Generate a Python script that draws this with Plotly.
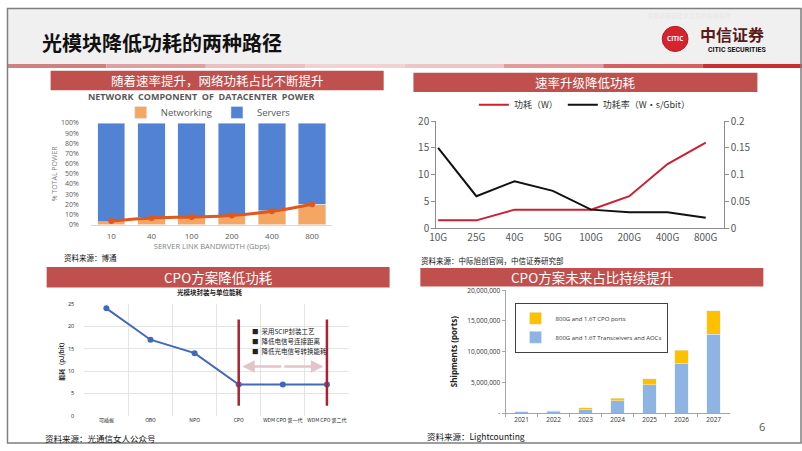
import plotly.graph_objects as go

W, H = 802, 451


def px(x):
    return x / W


def py(y):
    return 1 - y / H


CJK = "Noto Sans CJK SC, Noto Sans, sans-serif"
LAT = "Open Sans, Noto Sans, sans-serif"

# ---------------- data ----------------
# Panel 1: network component of datacenter power
p1_categories = ["10", "40", "100", "200", "400", "800"]
p1_networking = [3, 7, 7.5, 9, 13.5, 20]
p1_servers = [97, 93, 92.5, 91, 86.5, 80]
p1_trend = [3.5, 6.5, 7.5, 9, 13, 20]

# Panel 2: speed upgrade reduces power
p2_categories = ["10G", "25G", "40G", "50G", "100G", "200G", "400G", "800G"]
p2_power_w = [1.5, 1.5, 3.5, 3.5, 3.5, 6, 12, 16]
p2_power_rate = [0.15, 0.06, 0.088, 0.07, 0.035, 0.03, 0.03, 0.02]

# Panel 3: CPO reduces power
p3_categories = ["可插拔", "OBO", "NPO", "CPO", "WDM CPO 第一代", "WDM CPO 第二代"]
p3_energy = [24, 17, 14, 7, 7, 7]
p3_notes = ["采用SCIP封装工艺", "降低电信号连接距离", "降低光电信号转换能耗"]

# Panel 4: CPO share rising
p4_years = ["2021", "2022", "2023", "2024", "2025", "2026", "2027"]
p4_transceivers = [200000, 200000, 650000, 2000000, 4600000, 8150000, 12800000]
p4_cpo = [0, 200000, 200000, 400000, 1000000, 2050000, 3850000]
p4_tickvals = [0, 5000000, 10000000, 15000000, 20000000]
p4_ticktext = ["-", "5,000,000", "10,000,000", "15,000,000", "20,000,000"]

BANNER = "#c0504d"

fig = go.Figure()

# ---------------- Panel 1 traces ----------------
fig.add_trace(go.Bar(x=p1_categories, y=p1_networking, name="Networking",
                     marker_color="#f5a662", width=0.68,
                     xaxis="x", yaxis="y", legend="legend"))
fig.add_trace(go.Bar(x=p1_categories, y=p1_servers, name="Servers",
                     marker_color="#5282d3", width=0.68,
                     xaxis="x", yaxis="y", legend="legend"))
fig.add_trace(go.Scatter(x=p1_categories, y=p1_trend, mode="lines+markers",
                         line=dict(color="#e2571c", width=3, shape="spline"),
                         marker=dict(size=6, color="#e2571c"),
                         showlegend=False, xaxis="x", yaxis="y"))

# ---------------- Panel 2 traces ----------------
fig.add_trace(go.Scatter(x=p2_categories, y=p2_power_w, mode="lines",
                         name="功耗（W）", line=dict(color="#cc1f2f", width=2),
                         xaxis="x2", yaxis="y2", legend="legend2"))
fig.add_trace(go.Scatter(x=p2_categories, y=p2_power_rate, mode="lines",
                         name="功耗率（W•s/Gbit）", line=dict(color="#111111", width=2),
                         xaxis="x2", yaxis="y5", legend="legend2"))

# ---------------- Panel 3 traces ----------------
fig.add_trace(go.Scatter(x=p3_categories, y=p3_energy, mode="lines+markers",
                         line=dict(color="#4169b8", width=2),
                         marker=dict(size=6, color="#4169b8"),
                         showlegend=False, xaxis="x3", yaxis="y3"))

# ---------------- Panel 4 traces ----------------
fig.add_trace(go.Bar(x=p4_years, y=p4_transceivers,
                     name="800G and 1.6T Transceivers and AOCs",
                     marker_color="#8db4e2", width=0.42,
                     xaxis="x4", yaxis="y4", legend="legend3"))
fig.add_trace(go.Bar(x=p4_years, y=p4_cpo, name="800G and 1.6T CPO ports",
                     marker_color="#ffc000", width=0.42,
                     xaxis="x4", yaxis="y4", legend="legend3"))

GRAY_T = "#595959"

layout = dict(
    width=W, height=H,
    margin=dict(l=0, r=0, t=0, b=0),
    paper_bgcolor="white", plot_bgcolor="rgba(0,0,0,0)",
    barmode="stack",
    font=dict(family=CJK, color="#333333"),
    # panel 1
    xaxis=dict(domain=[px(85), px(328)], anchor="y", type="category",
               range=[-0.5, 5.5], showline=True, linecolor="#d9d9d9",
               ticks="outside", ticklen=4, tickcolor="rgba(0,0,0,0)",
               tickfont=dict(size=8, color=GRAY_T, family=LAT),
               title=dict(text="SERVER LINK BANDWIDTH (Gbps)", standoff=3,
                          font=dict(size=7.5, color="#7f7f7f", family=LAT)),
               fixedrange=True),
    yaxis=dict(domain=[py(224), py(119)], anchor="x", range=[0, 100],
               dtick=10, ticksuffix="%", showgrid=False, zeroline=False,
               ticks="outside", ticklen=10, tickcolor="rgba(0,0,0,0)",
               tickfont=dict(size=7, color=GRAY_T, family=LAT),
               title=dict(text="% TOTAL POWER", standoff=2,
                          font=dict(size=7, color="#7f7f7f", family=LAT))),
    # panel 2
    xaxis2=dict(domain=[px(433), px(723)], anchor="y2", type="category",
                range=[-0.05, 7.47], showline=True, linecolor="#8c8c8c",
                ticks="", tickfont=dict(size=10, color=GRAY_T, family=CJK)),
    yaxis2=dict(domain=[py(228), py(117)], anchor="x2", range=[0, 20],
                dtick=5, showline=True, linecolor="#8c8c8c", ticks="outside",
                ticklen=4, tickcolor="#8c8c8c", showgrid=False, zeroline=False,
                tickfont=dict(size=10, color=GRAY_T, family=CJK)),
    yaxis5=dict(overlaying="y2", side="right", anchor="x2", range=[0, 0.2],
                dtick=0.05, showline=True, linecolor="#8c8c8c", ticks="outside",
                ticklen=4, tickcolor="#8c8c8c", showgrid=False, zeroline=False,
                tickfont=dict(size=10, color=GRAY_T, family=CJK)),
    # panel 3
    xaxis3=dict(domain=[px(78), px(345)], anchor="y3", type="category",
                range=[-0.5, 5.5], tickson="boundaries", showgrid=True,
                gridcolor="#e4e4e4", ticks="", showline=False, tickangle=0,
                tickfont=dict(size=5, color="#222222", family=CJK)),
    yaxis3=dict(domain=[py(422), py(306)], anchor="x3", range=[0, 25],
                dtick=5, showgrid=True, gridcolor="#e4e4e4", zeroline=False,
                ticks="outside", ticklen=8, tickcolor="rgba(0,0,0,0)",
                tickfont=dict(size=5.5, color="#222222", family=LAT),
                title=dict(text="<b>能耗（pJ/bit）</b>", standoff=2,
                           font=dict(size=6, color="#222222", family=CJK))),
    # panel 4
    xaxis4=dict(domain=[px(503), px(729)], anchor="y4", type="category",
                range=[-0.5, 6.5], showline=True, linecolor="#a6a6a6",
                tickson="boundaries", ticks="outside", ticklen=3,
                tickcolor="#a6a6a6",
                tickfont=dict(size=6.5, color="#333333", family=LAT)),
    yaxis4=dict(domain=[py(419), py(292)], anchor="x4", range=[0, 20000000],
                tickvals=p4_tickvals, ticktext=p4_ticktext, showline=True,
                linecolor="#a6a6a6", ticks="outside", ticklen=3,
                tickcolor="#a6a6a6", showgrid=False, zeroline=False,
                tickfont=dict(size=6.5, color="#333333", family=LAT),
                title=dict(text="<b>Shipments (ports)</b>", standoff=8,
                           font=dict(size=8, color="#222222", family=LAT))),
    legend=dict(x=px(203), y=py(108), xanchor="center", yanchor="middle",
                orientation="h", bgcolor="rgba(0,0,0,0)", traceorder="normal",
                font=dict(size=9.5, color=GRAY_T, family=LAT),
                itemwidth=30, tracegroupgap=0),
    legend2=dict(x=px(583), y=py(100), xanchor="center", yanchor="middle",
                 orientation="h", bgcolor="rgba(0,0,0,0)",
                 font=dict(size=9, color="#333333", family=CJK),
                 itemwidth=30),
    legend3=dict(x=px(512), y=py(305), xanchor="left", yanchor="top",
                 bgcolor="white", bordercolor="#404040", borderwidth=1,
                 traceorder="reversed",
                 font=dict(size=6, color="#333333", family=LAT),
                 itemwidth=30, tracegroupgap=2),
)
fig.update_layout(**layout)

shapes = []
annotations = []

# header background
shapes.append(dict(type="rect", xref="paper", yref="paper", x0=0, x1=1,
                   y0=py(58), y1=1, fillcolor="#f0f0f0", line_width=0,
                   layer="below"))
# header bottom red gradient-ish line
grad = ["#cf8080", "#dea0a0", "#ebc0c0", "#f1d2d2", "#efc6c6", "#e29a9a",
        "#d46060", "#c83030"]
seg = W / len(grad)
for i, c in enumerate(grad):
    shapes.append(dict(type="rect", xref="paper", yref="paper",
                       x0=px(i * seg), x1=px((i + 1) * seg), y0=py(62),
                       y1=py(58), fillcolor=c, line_width=0, layer="below"))

# banners
banners = [
    (44, 380, 65, 85, "随着速率提升，网络功耗占比不断提升", 12.5),
    (410, 757, 67, 87, "速率升级降低功耗", 12.5),
    (40, 386, 268, 289, "CPO方案降低功耗", 13.5),
    (417, 763, 269, 288, "CPO方案未来占比持续提升", 13.5),
]
for x0, x1, y0, y1, txt, sz in banners:
    shapes.append(dict(type="rect", xref="paper", yref="paper", x0=px(x0),
                       x1=px(x1), y0=py(y1), y1=py(y0), fillcolor=BANNER,
                       line_width=0, layer="below"))
    annotations.append(dict(text=txt, xref="paper", yref="paper",
                            x=px((x0 + x1) / 2), y=py((y0 + y1) / 2),
                            xanchor="center", yanchor="middle", showarrow=False,
                            font=dict(size=sz, color="white", family=CJK)))

# slide frame
shapes.append(dict(type="rect", xref="paper", yref="paper", x0=px(0.5),
                   x1=px(801), y0=py(450), y1=py(0.5),
                   line=dict(color="#7f7f7f", width=1.5)))

# panel 3 red vertical lines at CPO and WDM CPO 第二代
for cat in [p3_categories[3], p3_categories[5]]:
    idx = p3_categories.index(cat)
    shapes.append(dict(type="line", xref="x3", yref="y3", x0=idx, x1=idx,
                       y0=2.3, y1=21.5, line=dict(color="#b0202e", width=2.5)))

# panel 3 double arrow between the two red lines
i_a = p3_categories.index("CPO")
i_b = p3_categories.index("WDM CPO 第二代")
mid = (i_a + i_b) / 2
for end in [i_a + 0.08, i_b - 0.08]:
    annotations.append(dict(x=end, y=11.0, ax=mid, ay=11.0, xref="x3",
                            yref="y3", axref="x3", ayref="y3", text="",
                            showarrow=True, arrowhead=2, arrowsize=1,
                            arrowwidth=2.5, arrowcolor="#e3c4c8"))

# panel 3 bullet notes
for k, note in enumerate(p3_notes):
    annotations.append(dict(text="■  " + note, xref="x3", yref="y3",
                            x=i_a + 0.25, y=19.0 - k * 2.3, xanchor="left",
                            yanchor="middle", showarrow=False,
                            font=dict(size=6.5, color="#222222", family=CJK)))

# header title
annotations.append(dict(text="<b>光模块降低功耗的两种路径</b>", xref="paper",
                        yref="paper", x=px(33), y=py(36), xanchor="left",
                        yanchor="middle", showarrow=False,
                        font=dict(size=20, color="#111111", family=CJK)))
# logo
shapes.append(dict(type="circle", xref="paper", yref="paper", x0=px(661),
                   x1=px(687), y0=py(45), y1=py(19), fillcolor="#d7232e",
                   line=dict(color="#b01c25", width=1)))
annotations.append(dict(text="<b>CITIC</b>", xref="paper", yref="paper",
                        x=px(674), y=py(32), xanchor="center", yanchor="middle",
                        showarrow=False,
                        font=dict(size=6.5, color="white", family=LAT)))
annotations.append(dict(text="<b>中信证券</b>", xref="paper", yref="paper",
                        x=px(697), y=py(27), xanchor="left", yanchor="middle",
                        showarrow=False,
                        font=dict(size=16, color="#5a1a1a", family=CJK)))
annotations.append(dict(text="<b>CITIC SECURITIES</b>", xref="paper",
                        yref="paper", x=px(736), y=py(43), xanchor="center",
                        yanchor="middle", showarrow=False,
                        font=dict(size=7, color="#111111",
                                  family="Liberation Sans Narrow, Roboto, sans-serif")))
annotations.append(dict(text="请务必阅读正文之后的免责条款", xref="paper",
                        yref="paper", x=px(688), y=py(8), xanchor="center",
                        yanchor="middle", showarrow=False,
                        font=dict(size=6, color="#e6e6e6", family=CJK)))

# chart titles
annotations.append(dict(text="<b>NETWORK  COMPONENT  OF  DATACENTER  POWER</b>",
                        xref="paper", yref="paper", x=px(196), y=py(92),
                        xanchor="center", yanchor="middle", showarrow=False,
                        font=dict(size=9, color="#595959", family=LAT)))
annotations.append(dict(text="<b>光模块封装与单位能耗</b>", xref="paper",
                        yref="paper", x=px(205), y=py(294), xanchor="center",
                        yanchor="middle", showarrow=False,
                        font=dict(size=6.5, color="#222222", family=CJK)))

# sources
sources = [
    (55, 258, "资料来源：博通", 7.5),
    (416, 261, "资料来源：中际旭创官网，中信证券研究部", 7.5),
    (36, 445, "资料来源：光通信女人公众号", 8.5),
    (422, 443, "资料来源：Lightcounting", 8.5),
]
for x, y, t, sz in sources:
    annotations.append(dict(text=t, xref="paper", yref="paper", x=px(x),
                            y=py(y), xanchor="left", yanchor="middle",
                            showarrow=False,
                            font=dict(size=sz, color="#111111", family=CJK)))

# page number
annotations.append(dict(text="6", xref="paper", yref="paper", x=px(762),
                        y=py(433), xanchor="center", yanchor="middle",
                        showarrow=False,
                        font=dict(size=11, color="#595959", family=LAT)))

fig.update_layout(shapes=shapes, annotations=annotations)
fig.write_html(
    "out.html",
    config={"displayModeBar": False},
    post_script=(
        "document.body.style.margin='0';"
        "document.body.style.padding='0';"
        "document.documentElement.style.overflow='hidden';"
    ),
)
